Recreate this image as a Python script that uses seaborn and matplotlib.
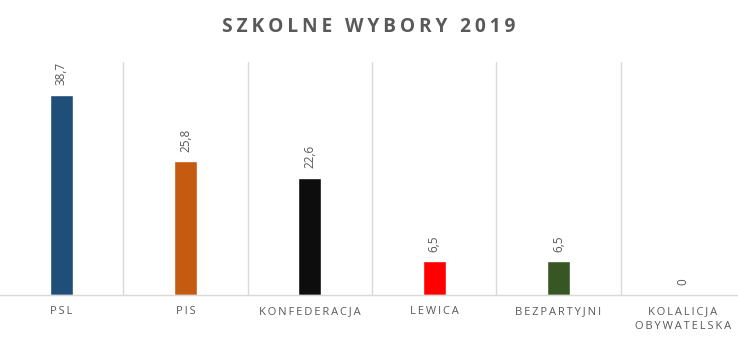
import matplotlib
matplotlib.use("Agg")
import matplotlib.pyplot as plt
import seaborn as sns
import pandas as pd

categories = ["PSL", "PIS", "KONFEDERACJA", "LEWICA", "BEZPARTYJNI", "KOLALICJA\nOBYWATELSKA"]
values = [38.7, 25.8, 22.6, 6.5, 6.5, 0.0]
value_labels = ["38,7", "25,8", "22,6", "6,5", "6,5", "0"]
colors = ["#1F4E79", "#C55A11", "#0D0D0D", "#FF0000", "#375623", "#4472C4"]
title = "SZKOLNE WYBORY 2019"

sns.set_style("white")
plt.rcParams["font.family"] = ["Open Sans", "DejaVu Sans"]

df = pd.DataFrame({"cat": categories, "val": values})

fig = plt.figure(figsize=(7.38, 3.39), dpi=100)
ax = fig.add_axes([-1 / 738, 44 / 339, 746 / 738, 233 / 339])

sns.barplot(data=df, x="cat", y="val", hue="cat", palette=colors, legend=False,
            width=0.185, ax=ax, saturation=1)

for cont, lab in zip(ax.containers, value_labels):
    ax.bar_label(cont, labels=[lab], rotation=90, padding=7, fontsize=8.5, color="#595959")

ax.set_xlim(-0.5, 5.5)
ax.set_ylim(0, 45)
ax.set_yticks([])
ax.set_xlabel("")
ax.set_ylabel("")

def spaced(s, sep="\u2009"):
    return "\n".join(sep.join(list(line)) for line in s.split("\n"))

ax.set_xticks(range(len(categories)))
ax.set_xticklabels([spaced(c) for c in categories], fontsize=8, color="#595959",
                   linespacing=1.45)
ax.tick_params(axis="x", length=0, pad=8)

ax.set_xticks([i + 0.5 for i in range(len(categories) - 1)], minor=True)
ax.grid(True, which="minor", axis="x", color="#D9D9D9", linewidth=1)
ax.tick_params(axis="x", which="minor", length=0)

for s in ["top", "left", "right"]:
    ax.spines[s].set_visible(False)
ax.spines["bottom"].set_color("#D9D9D9")
ax.spines["bottom"].set_linewidth(1)

fig.text(0.5, 1 - 26.5 / 339, spaced(title), ha="center", va="center",
         fontsize=13.8, fontweight="bold", color="#595959")

fig.savefig("out.png", dpi=100)
